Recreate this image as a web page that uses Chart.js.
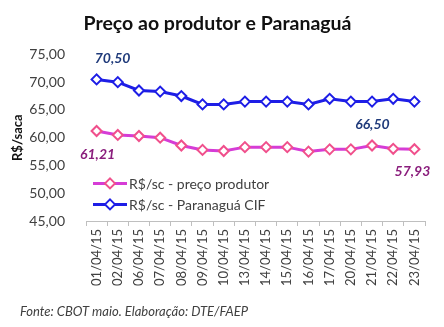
<!DOCTYPE html>
<html>
<head>
<meta charset="utf-8">
<script src="https://cdn.jsdelivr.net/npm/chart.js@4/dist/chart.umd.min.js"></script>
<style>
  html, body { margin: 0; padding: 0; background: #fff; }
  #wrap { width: 444px; height: 327px; }
</style>
</head>
<body>
<div id="wrap"><canvas id="grafico"></canvas></div>
<script>
const datas = ['01/04/15', '02/04/15', '06/04/15', '07/04/15', '08/04/15', '09/04/15', '10/04/15', '13/04/15',
  '14/04/15', '15/04/15', '16/04/15', '17/04/15', '20/04/15', '21/04/15', '22/04/15', '23/04/15'];
const precoProdutor = [61.21, 60.5, 60.3, 60.0, 58.6, 57.8, 57.6, 58.3, 58.3, 58.3, 57.5, 57.9, 57.9, 58.6, 58.0, 57.93];
const paranagua = [70.5, 70.0, 68.5, 68.3, 67.5, 66.0, 66.0, 66.5, 66.5, 66.5, 66.0, 67.0, 66.5, 66.5, 67.0, 66.5];
const yTicks = [45, 50, 55, 60, 65, 70, 75];

const fonte = 'Lato, "Open Sans", sans-serif';
const fmt = v => v.toFixed(2).replace('.', ',');

// rotulos de dados (primeiro e ultimo ponto)
const rotulos = [
  { ds: 1, i: 0, dx: 16, dy: -21, cor: '#1f3a7a' },
  { ds: 1, i: 15, dx: -42, dy: 23, cor: '#1f3a7a' },
  { ds: 0, i: 0, dx: 1, dy: 24, cor: '#8a1d7c' },
  { ds: 0, i: 15, dx: -2, dy: 22, cor: '#8a1d7c' }
];

const extras = {
  id: 'extras',
  afterDatasetsDraw(chart) {
    const ctx = chart.ctx;
    ctx.save();
    ctx.font = 'bold italic 14px ' + fonte;
    ctx.textAlign = 'center';
    ctx.textBaseline = 'middle';
    rotulos.forEach(r => {
      const p = chart.getDatasetMeta(r.ds).data[r.i];
      const v = chart.data.datasets[r.ds].data[r.i];
      ctx.fillStyle = r.cor;
      ctx.fillText(fmt(v), p.x + r.dx, p.y + r.dy);
    });

    // legenda dentro da area do grafico
    const area = chart.chartArea;
    chart.data.datasets.forEach((ds, k) => {
      const y = area.top + 129 + k * 21;
      const x0 = area.left + 7;
      ctx.strokeStyle = ds.borderColor;
      ctx.lineWidth = 3;
      ctx.beginPath();
      ctx.moveTo(x0, y);
      ctx.lineTo(x0 + 34, y);
      ctx.stroke();
      const cx = x0 + 17;
      ctx.fillStyle = '#fff';
      ctx.strokeStyle = ds.pointBorderColor;
      ctx.lineWidth = 2;
      ctx.beginPath();
      ctx.moveTo(cx, y - 5);
      ctx.lineTo(cx + 5, y);
      ctx.lineTo(cx, y + 5);
      ctx.lineTo(cx - 5, y);
      ctx.closePath();
      ctx.fill();
      ctx.stroke();
      ctx.fillStyle = '#404040';
      ctx.textAlign = 'left';
      ctx.font = '14px ' + fonte;
      ctx.fillText(ds.label, x0 + 36, y + 1);
    });

    // fonte
    ctx.font = 'italic 13px ' + fonte;
    ctx.fillStyle = '#404040';
    ctx.fillText('Fonte: CBOT maio. Elaboração: DTE/FAEP', 20, 312);
    ctx.restore();
  }
};

new Chart(document.getElementById('grafico'), {
  type: 'line',
  data: {
    labels: datas,
    datasets: [{
      label: 'R$/sc - preço produtor',
      data: precoProdutor,
      borderColor: '#d63cd6',
      borderWidth: 3,
      pointStyle: 'rectRot',
      pointRadius: 5,
      pointBorderWidth: 2,
      pointBackgroundColor: '#fff',
      pointBorderColor: '#f0508c',
      tension: 0
    }, {
      label: 'R$/sc - Paranaguá CIF',
      data: paranagua,
      borderColor: '#1e1ee6',
      borderWidth: 3,
      pointStyle: 'rectRot',
      pointRadius: 5,
      pointBorderWidth: 2,
      pointBackgroundColor: '#fff',
      pointBorderColor: '#1e1ee6',
      tension: 0
    }]
  },
  options: {
    responsive: true,
    maintainAspectRatio: false,
    animation: false,
    layout: { padding: { left: 10, right: 19, bottom: 30, top: 0 } },
    plugins: {
      legend: { display: false },
      tooltip: { enabled: false },
      title: {
        display: true,
        text: 'Preço ao produtor e Paranaguá',
        color: '#111',
        font: { family: fonte, size: 19.5, weight: 'bold' },
        padding: { top: 12, bottom: 19 }
      }
    },
    scales: {
      x: {
        offset: true,
        grid: { offset: true, drawOnChartArea: false, drawTicks: true, tickLength: 5, color: '#bfbfbf' },
        border: { color: '#bfbfbf' },
        ticks: {
          minRotation: 90, maxRotation: 90, autoSkip: false, padding: 3,
          color: '#404040', font: { family: fonte, size: 13 }
        },
        afterFit: s => { s.height = 76; }
      },
      y: {
        min: 45, max: 75,
        afterBuildTicks: s => { s.ticks = yTicks.map(v => ({ value: v })); },
        grid: { display: false },
        border: { display: false },
        ticks: {
          padding: 13, color: '#404040', font: { family: fonte, size: 14 },
          callback: v => fmt(v)
        },
        title: {
          display: true, text: 'R$/saca', color: '#111',
          font: { family: fonte, size: 13, weight: 'bold' }, padding: 0
        },
        afterFit: s => { s.width = 76; }
      }
    }
  },
  plugins: [extras]
});
</script>
</body>
</html>
